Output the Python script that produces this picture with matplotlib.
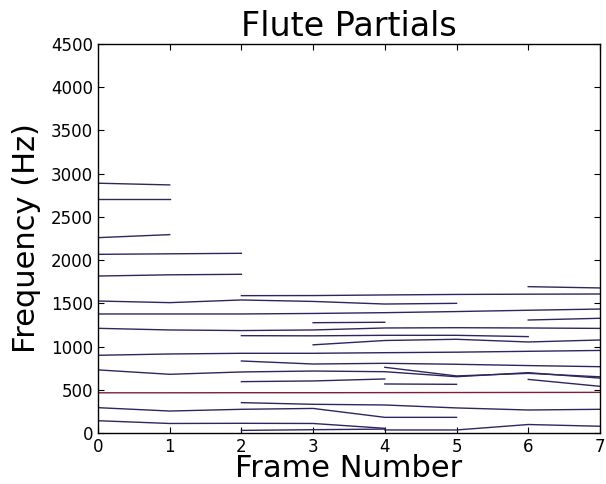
"""Flute partial tracks over analysis frames."""

import matplotlib
matplotlib.use('Agg')
import matplotlib.pyplot as plt

# each partial track: (first frame, frequency per frame in Hz)
track_starts = [0, 0, 0, 0, 0, 0, 2, 6, 0, 3, 6, 0, 2, 3,
                0, 2, 0, 4, 2, 4, 6, 0, 2, 0, 0, 2, 4]
track_freqs = [
    [2890, 2870],
    [2705, 2705],
    [2260, 2295],
    [2067, 2073, 2079],
    [1816, 1830, 1836],
    [1527, 1508, 1539, 1522, 1492, 1500],
    [1589, 1590, 1597, 1603, 1606, 1608],
    [1693, 1678],
    [1377, 1377, 1377, 1383, 1392, 1405, 1420, 1434],
    [1276, 1281],
    [1307, 1327],
    [1211, 1192, 1185, 1192, 1215, 1218, 1215, 1210],
    [1126, 1124, 1130, 1130, 1115],
    [1020, 1070, 1084, 1053, 1076],
    [899, 914, 922, 922, 929, 935, 945, 955],
    [833, 798, 806, 795, 780, 767],
    [730, 679, 706, 717, 709, 651, 698, 635],
    [760, 660, 690, 650],
    [594, 602, 625],
    [567, 563],
    [620, 540],
    [465, 465, 466, 466, 467, 468, 469, 470],
    [351, 332, 324, 290, 266, 274],
    [293, 254, 274, 284, 181, 181],
    [142, 110, 112, 110, 54],
    [30, 38, 45],
    [35, 35, 98, 78],
]
# index of the loudest track, drawn in red
strong_track = 21

fig = plt.figure(figsize=(6.06, 4.84), dpi=100)
ax = fig.add_axes([0.1617, 0.1054, 0.8283, 0.8036])

for i, (start, freqs) in enumerate(zip(track_starts, track_freqs)):
    frames = list(range(start, start + len(freqs)))
    color = '#7a1f3d' if i == strong_track else '#32245f'
    ax.plot(frames, freqs, color=color, linewidth=1.0)

ax.set_xlim(0, 7)
ax.set_ylim(0, 4500)
ax.set_yticks(range(0, 4501, 500))
ax.set_xticks(range(0, 8))
ax.tick_params(direction='in', top=True, right=True, length=4, labelsize=12)
for spine in ax.spines.values():
    spine.set_linewidth(1.0)

ax.set_title('Flute Partials', fontsize=24)
ax.set_xlabel('Frame Number', fontsize=22, labelpad=-1)
ax.set_ylabel('Frequency (Hz)', fontsize=22, labelpad=7)

fig.savefig('out.png', dpi=100)
